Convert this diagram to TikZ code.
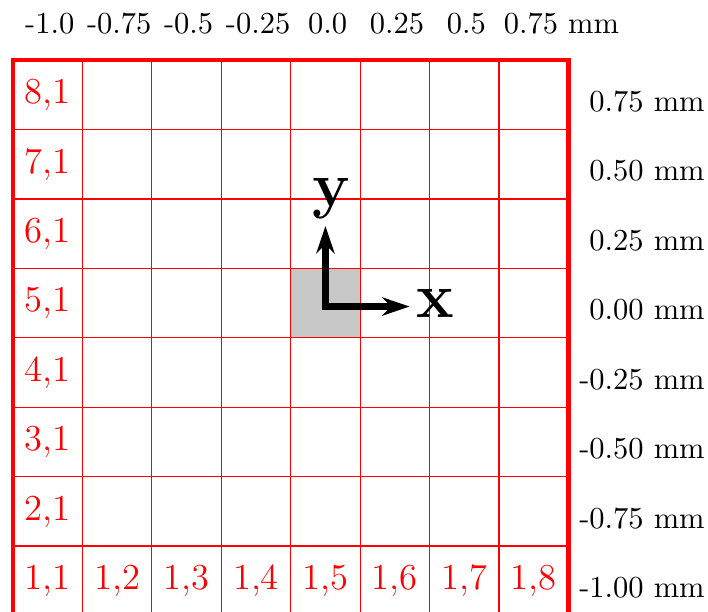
\documentclass[tikz,border=0pt]{standalone}
\usetikzlibrary{arrows.meta}
\begin{document}
\begin{tikzpicture}[x=0.8cm,y=0.8cm,
 gridline/.style={red,line width=0.4pt},
 frame/.style={red,line width=1.5pt},
 cellname/.style={text=red,font=\large},
 scalelab/.style={inner sep=0pt},
 axis/.style={line width=2.2pt,{Stealth[length=9pt,width=6pt]}-{Stealth[length=9pt,width=6pt]}},
 axlab/.style={font=\huge\bfseries,inner sep=2pt}]
\useasboundingbox (-0.187,0.058) rectangle (10.01,8.865);
\clip (-0.187,0.058) rectangle (10.01,8.865);
% highlighted pixel
\fill[black!22] (4,4) rectangle (5,5);
\foreach \k in {1,...,7} {
 \draw[gridline] (\k,0) -- (\k,8);
 \draw[gridline] (0,\k) -- (8,\k);
}
\draw[frame] (0,0) rectangle (8,8);
% pixel indices
\foreach \r in {1,...,8}
 \node[cellname] (r\r) at (0.5,\r-0.5) {\r,1};
\foreach \c in {2,...,8}
 \node[cellname] (c\c) at (\c-0.5,0.5) {1,\c};
% scales
\foreach \lab [count=\i from 0] in {-1.0,-0.75,-0.5,-0.25,0.0,0.25,0.5}
 \node[scalelab] (top\i) at (\i+0.53,8.53) {\lab};
\node[scalelab,anchor=west] (top7) at (7.06,8.53) {0.75 mm};
\foreach \lab [count=\r] in {-1.00,-0.75,-0.50,-0.25,0.00,0.25,0.50,0.75}
 \node[scalelab,anchor=east] (side\r) at (9.97,\r-0.6) {\lab{} mm};
% axes
\coordinate (o) at (4.5,4.45);
\node[axlab] (xlab) at (6.08,4.5) {x};
\node[axlab] (ylab) at (4.59,6.0) {y};
\draw[axis] (o |- ylab.south) -- (o) -- (o -| xlab.west);
\end{tikzpicture}
\end{document}
